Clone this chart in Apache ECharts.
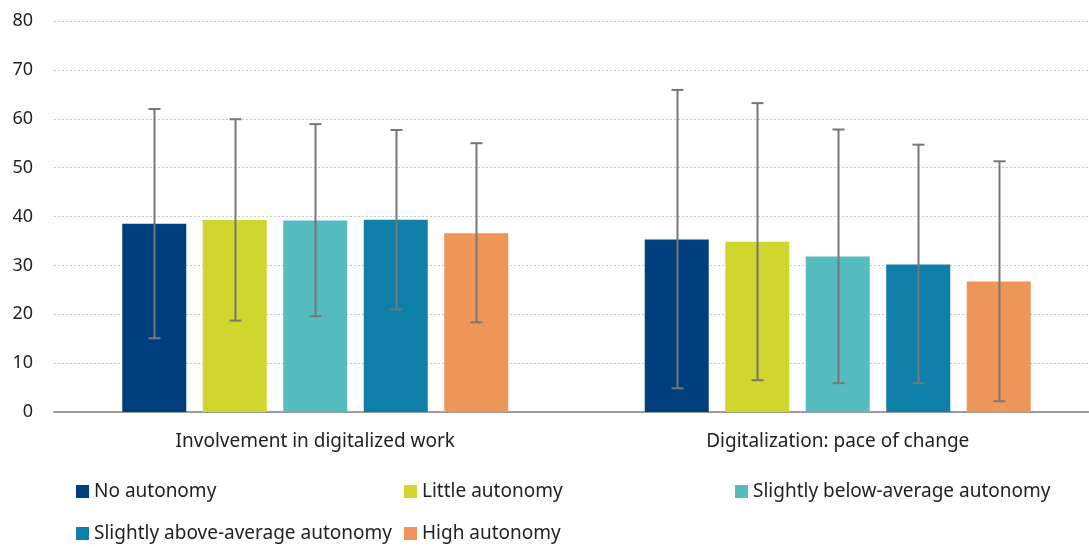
<!DOCTYPE html>
<html><head><meta charset="utf-8">
<script src="https://cdn.jsdelivr.net/npm/echarts@6/dist/echarts.min.js"></script>
<style>html,body{margin:0;padding:0;background:#fff}#c{width:1089px;height:547px}</style>
</head><body><div id="c"></div>
<script>
const categories = ["Involvement in digitalized work", "Digitalization: pace of change"];
const seriesNames = ["No autonomy", "Little autonomy", "Slightly below-average autonomy", "Slightly above-average autonomy", "High autonomy"];
const colors = ["#003F7D", "#CFD72E", "#55BDBF", "#0D7FA8", "#EE9658"];
const noAutonomy = [38.5, 35.3];
const littleAutonomy = [39.3, 34.85];
const belowAvg = [39.2, 31.8];
const aboveAvg = [39.35, 30.2];
const highAutonomy = [36.55, 26.7];
const errLow = [[15.1, 4.85], [18.7, 6.5], [19.6, 5.9], [21.0, 5.9], [18.35, 2.2]];
const errHigh = [[62.0, 65.9], [59.9, 63.2], [58.9, 57.8], [57.7, 54.7], [55.0, 51.3]];
const yTicks = [0, 10, 20, 30, 40, 50, 60, 70, 80];

const values = [noAutonomy, littleAutonomy, belowAvg, aboveAvg, highAutonomy];
const BAR_W = 64, GAP = 16.5;
const font = "'Source Sans Pro','Noto Sans',sans-serif";

const chart = echarts.init(document.getElementById('c'));
const series = [];
values.forEach((v, i) => {
  series.push({
    name: seriesNames[i], type: 'bar', data: v, barWidth: BAR_W, barGap: (GAP / BAR_W * 100) + '%',
    itemStyle: { color: colors[i] }, z: 2
  });
});
values.forEach((v, i) => {
  series.push({
    type: 'custom', name: 'err' + i, z: 5, silent: true,
    data: categories.map((c, j) => [j, errLow[i][j], errHigh[i][j]]),
    renderItem: function (params, api) {
      const xi = api.value(0);
      const lo = api.coord([xi, api.value(1)]);
      const hi = api.coord([xi, api.value(2)]);
      const total = 5 * BAR_W + 4 * GAP;
      const x = Math.round(lo[0] - total / 2 + i * (BAR_W + GAP) + BAR_W / 2) + 0.5;
      const half = 6;
      const st = { stroke: '#777777', lineWidth: 2 };
      return { type: 'group', children: [
        { type: 'line', shape: { x1: x, y1: lo[1], x2: x, y2: hi[1] }, style: st },
        { type: 'line', shape: { x1: x - half, y1: lo[1], x2: x + half, y2: lo[1] }, style: st },
        { type: 'line', shape: { x1: x - half, y1: hi[1], x2: x + half, y2: hi[1] }, style: st }
      ]};
    }
  });
});

const legendPos = [[76, 482], [404, 482], [735, 482], [76, 524], [404, 524]];
const legends = seriesNames.map((n, i) => ({
  data: [n], left: legendPos[i][0], top: legendPos[i][1], orient: 'horizontal',
  itemWidth: 13, itemHeight: 13, itemGap: 0, icon: 'rect', padding: 0,
  textStyle: { fontFamily: font, fontSize: 19, color: '#222', padding: [0, 0, 0, 0] }
}));

chart.setOption({
  animation: false,
  legend: legends,
  grid: { left: 54, right: -10, top: 21, bottom: 135, containLabel: false, outerBoundsMode: 'none' },
  xAxis: {
    type: 'category', data: categories,
    axisLine: { lineStyle: { color: '#808080', width: 1.5 } },
    axisTick: { show: false },
    axisLabel: { fontFamily: font, fontSize: 19, color: '#222', margin: 20 }
  },
  yAxis: {
    type: 'value', min: yTicks[0], max: yTicks[yTicks.length - 1], interval: 10,
    axisLine: { show: false }, axisTick: { show: false },
    axisLabel: { fontFamily: font, fontSize: 18, color: '#222', margin: 21 },
    splitLine: { lineStyle: { color: '#c8c8c8', type: [2, 2], width: 1 } }
  },
  series: series
});
</script></body></html>
